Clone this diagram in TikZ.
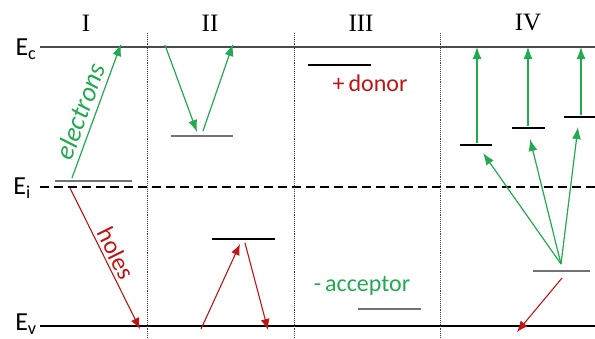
\documentclass[tikz,border=0pt]{standalone}
\usepackage{fontspec}
\setmainfont{Carlito}
\newfontfamily\numfont{Liberation Serif}
\usetikzlibrary{arrows.meta,positioning}
\definecolor{egreen}{RGB}{34,170,80}
\definecolor{hred}{RGB}{190,20,20}
\definecolor{lvlgray}{RGB}{115,115,115}

\begin{document}
\begin{tikzpicture}[
    x=1pt, y=-1pt,
    band/.style={line width=2.2pt, black!70},
    level/.style={line width=2.2pt, lvlgray},
    deep/.style={line width=1.6pt, black},
    divider/.style={densely dotted, line width=0.9pt, black!75},
    elec/.style={-{Latex[length=12pt,width=9pt]}, egreen, line width=1.2pt},
    hole/.style={-{Latex[length=11pt,width=9pt]}, hred, line width=1.1pt},
    region/.style={font=\numfont\fontsize{25}{27}\selectfont},
    bandlabel/.style={font=\fontsize{26}{28}\selectfont, inner sep=0pt},
    tag/.style={font=\fontsize{24}{26}\selectfont, inner sep=0pt}
]
\useasboundingbox (0,0) rectangle (595,338);

% Band edges
\coordinate (cL) at (40,47);  \coordinate (cR) at (595,47);
\coordinate (iL) at (40,187); \coordinate (iR) at (595,187);
\coordinate (vL) at (40,326); \coordinate (vR) at (595,326);
\draw[band] (cL) -- (cR);
\draw[dashed, line width=1.3pt, dash pattern=on 9pt off 5pt] (iL) -- (iR);
\draw[deep] (vL) -- (vR);

% Band labels
\node[bandlabel] (Ec) at (26,49) {E\textsubscript{c}};
\node[bandlabel] (Ei) at (22,188) {E\textsubscript{i}};
\node[bandlabel] (Ev) at (26,324) {E\textsubscript{v}};

% Region dividers
\foreach \x/\name in {147/dA, 294/dB, 440/dC} {
    \coordinate (\name t) at (\x,33);
    \coordinate (\name b) at (\x,338);
    \draw[divider] (\name t) -- (\name b);
}

% Region titles
\node[region] (r1) at (86,23) {I};
\node[region] (r2) at (210,23) {II};
\node[region] (r3) at (361,23) {III};
\node[region] (r4) at (528,23) {IV};

% Region I: mid-gap trap
\draw[level] (55,181) -- (132,181);
\coordinate (e1a) at (72,178); \coordinate (e1b) at (121,44);
\coordinate (h1a) at (70,188); \coordinate (h1b) at (140,329);
\draw[elec] (e1a) -- node[tag, sloped, above=5pt, pos=0.46, egreen, font=\itshape\fontsize{27}{29}\selectfont] (elab) {electrons} (e1b);
\draw[hole] (h1a) -- node[tag, sloped, above=3pt, hred, font=\fontsize{25}{27}\selectfont] (hlab) {holes} (h1b);

% Region II: electron trap and hole trap
\draw[level] (171,136) -- (233,136);
\coordinate (e2a) at (165,45); \coordinate (e2b) at (197,132);
\coordinate (e2c) at (203,131); \coordinate (e2d) at (233,44);
\draw[elec] (e2a) -- (e2b);
\draw[elec] (e2c) -- (e2d);
\draw[deep] (212,239) -- (275,239);
\coordinate (h2a) at (201,329); \coordinate (h2b) at (240,244);
\coordinate (h2c) at (245,243); \coordinate (h2d) at (268,330);
\draw[hole] (h2a) -- (h2b);
\draw[hole] (h2c) -- (h2d);

% Region III: shallow levels
\draw[deep] (308,65) -- (371,65);
\node[tag, hred] (donor) at (370,83) {+\,donor};
\node[tag, egreen] (acceptor) at (362,286) {-\,acceptor};
\draw[level] (358,309) -- (421,309);

% Region IV: several traps
\draw[deep] (460,145) -- (492,145);
\draw[deep] (512,128) -- (545,128);
\draw[deep] (564,117) -- (595,117);
\draw[level] (533,271) -- (590,271);
\coordinate (t1) at (477,143); \coordinate (t2) at (528,126); \coordinate (t3) at (581,115);
\foreach \t in {t1,t2,t3}
    \draw[elec] (\t) -- (\t |- cL);
\coordinate (src) at (561,264);
\coordinate (s1) at (483,153); \coordinate (s2) at (530,139); \coordinate (s3) at (578,127);
\foreach \s in {s1,s2,s3}
    \draw[elec] (src) -- (\s);
\coordinate (h4a) at (562,278); \coordinate (h4b) at (517,332);
\draw[hole] (h4a) -- (h4b);

\end{tikzpicture}
\end{document}
